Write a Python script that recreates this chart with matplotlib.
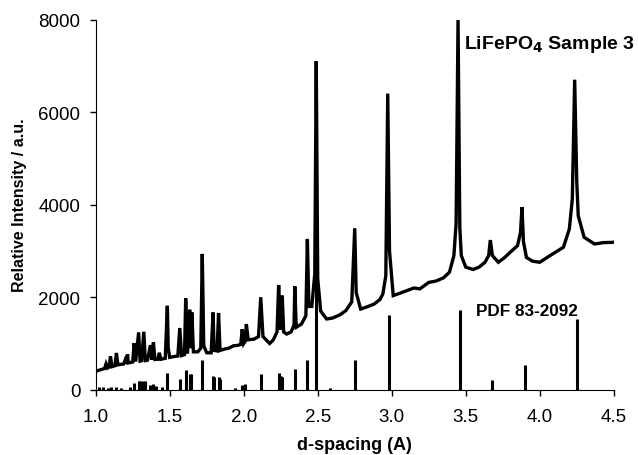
import matplotlib
matplotlib.use("Agg")
import matplotlib.pyplot as plt

d_obs = [1.00, 1.03, 1.06, 1.07, 1.08, 1.09, 1.10, 1.11, 1.13, 1.14, 1.15,
         1.19, 1.20, 1.21, 1.215, 1.22, 1.25, 1.26, 1.27, 1.29, 1.30, 1.31,
         1.325, 1.335, 1.35, 1.37, 1.38, 1.39, 1.40, 1.42, 1.43, 1.44, 1.47,
         1.484, 1.49, 1.50, 1.53, 1.555, 1.568, 1.58, 1.60, 1.608, 1.62,
         1.635, 1.642, 1.65, 1.66, 1.69, 1.71, 1.72, 1.73, 1.75, 1.78, 1.793,
         1.80, 1.82, 1.83, 1.84, 1.87, 1.90, 1.93, 1.96, 1.98, 1.99, 2.00,
         2.01, 2.018, 2.03, 2.07, 2.10, 2.115, 2.13, 2.175, 2.20, 2.225,
         2.236, 2.248, 2.26, 2.27, 2.29, 2.32, 2.34, 2.345, 2.355, 2.39,
         2.42, 2.43, 2.44, 2.46, 2.48, 2.49, 2.50, 2.52, 2.56, 2.60, 2.65,
         2.69, 2.73, 2.75, 2.76, 2.79, 2.84, 2.88, 2.92, 2.94, 2.96, 2.973,
         2.985, 3.01, 3.05, 3.10, 3.15, 3.19, 3.25, 3.30, 3.35, 3.39, 3.42,
         3.435, 3.448, 3.46, 3.47, 3.50, 3.55, 3.59, 3.63, 3.655, 3.666,
         3.68, 3.72, 3.76, 3.80, 3.85, 3.87, 3.88, 3.89, 3.91, 3.95, 4.00,
         4.07, 4.12, 4.16, 4.20, 4.22, 4.236, 4.25, 4.26, 4.30, 4.37, 4.43,
         4.49, 4.50]
i_obs = [400, 430, 460, 560, 470, 490, 720, 500, 520, 795, 540,
         560, 650, 570, 770, 580, 600, 1010, 610, 1240, 620, 630,
         1255, 630, 640, 965, 650, 1025, 655, 660, 800, 660, 680,
         1815, 900, 700, 720, 730, 1335, 740, 760, 1975, 780,
         1730, 900, 1670, 820, 820, 900, 2935, 950, 800, 800, 1670,
         850, 840, 1660, 850, 880, 900, 950, 960, 980, 1310, 1000,
         1050, 1420, 1080, 1095, 1150, 2000, 1150, 1000, 1080, 1250,
         2265, 1300, 2035, 1250, 1205, 1250, 1400, 2235, 1350, 1420,
         1600, 3260, 1800, 1800, 2500, 7100, 2400, 1700, 1530, 1550, 1620,
         1710, 1900, 3490, 2100, 1745, 1800, 1850, 1950, 2070, 2465, 6400,
         3000, 2035, 2080, 2140, 2200, 2180, 2320, 2350, 2420, 2540, 2900,
         3600, 8000, 3500, 2900, 2650, 2600, 2650, 2755, 2900, 3235,
         2900, 2755, 2850, 2970, 3115, 3400, 3945, 3200, 2860, 2780, 2755,
         2900, 3000, 3080, 3475, 4125, 6700, 4500, 3760, 3295, 3150, 3180,
         3185, 3190]

# reference lines, PDF 83-2092
d_pdf = [1.02, 1.05, 1.08, 1.10, 1.14, 1.17, 1.23, 1.26, 1.29, 1.30, 1.32,
         1.33, 1.37, 1.39, 1.41, 1.45, 1.484, 1.568, 1.608, 1.635, 1.645,
         1.72, 1.79, 1.80, 1.83, 1.84, 1.94, 1.99, 2.01, 2.115, 2.236, 2.25,
         2.26, 2.345, 2.43, 2.49, 2.58, 2.755, 2.98, 3.46, 3.675, 3.90, 4.25]
i_pdf = [60, 50, 40, 60, 50, 40, 60, 150, 190, 200, 200,
         180, 100, 130, 80, 60, 370, 240, 420, 350, 340,
         635, 300, 280, 270, 230, 40, 110, 130, 350, 370, 300,
         280, 460, 650, 6250, 30, 635, 1610, 1715, 215, 530, 1520]

x_ticks = [1.0, 1.5, 2.0, 2.5, 3.0, 3.5, 4.0, 4.5]
y_ticks = [0, 2000, 4000, 6000, 8000]

plt.rcParams['font.family'] = ['Liberation Sans', 'DejaVu Sans']

fig = plt.figure(figsize=(6.38, 4.56), dpi=100)
ax = fig.add_axes([0.150, 0.143, 0.812, 0.812])

ax.plot(d_obs, i_obs, color='black', lw=2.4, solid_joinstyle='miter')
ax.vlines(d_pdf, 0, i_pdf, color='black', lw=2.2)

ax.set_xlim(1.0, 4.5)
ax.set_ylim(0, 8000)
ax.set_xticks(x_ticks)
ax.set_xticklabels([f"{t:.1f}" for t in x_ticks])
ax.set_yticks(y_ticks)
for s in ['top', 'right']:
    ax.spines[s].set_visible(False)
ax.tick_params(direction='out', length=4, labelsize=13.5, width=1)
ax.tick_params(axis='x', pad=9)
ax.tick_params(axis='y', pad=7)

ax.set_xlabel('d-spacing (A)', fontsize=13, fontweight='bold', va='top')
ax.xaxis.set_label_coords(0.5, -0.125)
ax.set_ylabel('Relative Intensity / a.u.', fontsize=11.5, fontweight='bold')
ax.yaxis.set_label_coords(-0.133, 0.5)

ax.text(4.64, 7475, r'LiFePO$_\mathbf{4}$ Sample 3', fontsize=14, fontweight='bold',
        ha='right', va='center', clip_on=False)
ax.text(3.91, 1720, 'PDF 83-2092', fontsize=12.3, fontweight='bold',
        ha='center', va='center')

fig.savefig('out.png', dpi=100)
